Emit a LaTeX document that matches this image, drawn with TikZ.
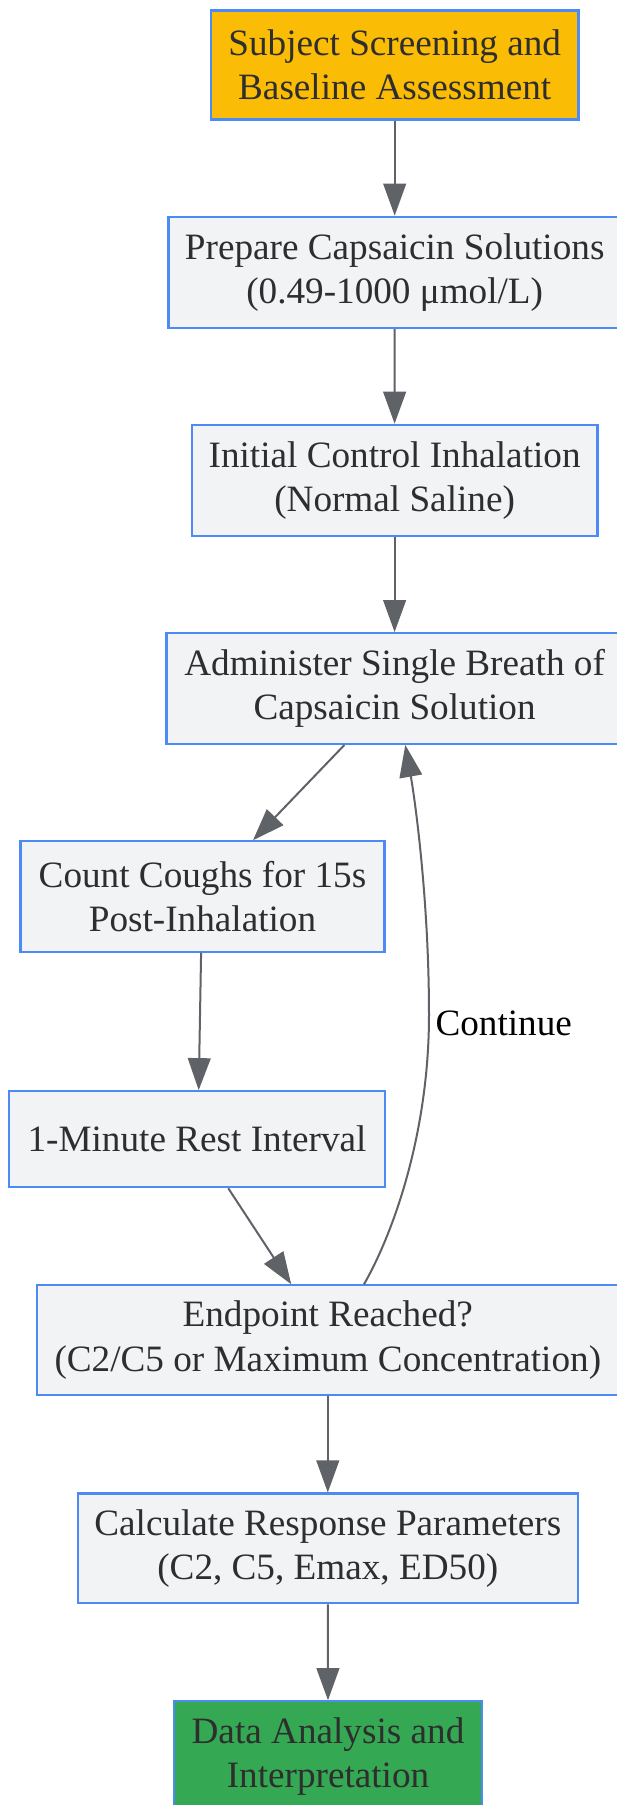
\documentclass[tikz,border=0pt]{standalone}
\usepackage{fontspec}
\setmainfont{Liberation Serif}
\usetikzlibrary{arrows.meta,calc}
\definecolor{bordc}{HTML}{4C8BF5}
\definecolor{fillc}{HTML}{F1F3F5}
\definecolor{edgec}{HTML}{5F6368}
\definecolor{txtc}{HTML}{2E2E2E}
\definecolor{orangec}{HTML}{FBBC05}
\definecolor{greenc}{HTML}{34A853}
\begin{document}
\begin{tikzpicture}[x=1pt,y=-1pt,
  box/.style={draw=bordc, line width=2.2pt, fill=fillc, text=txtc, align=center,
    inner sep=0pt, font=\fontsize{37.2}{44.5}\selectfont},
  edge/.style={draw=edgec, line width=2pt, -{Triangle[length=32pt,width=22.7pt]}},
  lbl/.style={text=black, inner sep=0pt, font=\fontsize{37.2}{44.5}\selectfont}]
\useasboundingbox (0,0) rectangle (617,1805);
\fill[white] (0,0) rectangle (617,1805);
\clip (0,0) rectangle (617,1805);

\node[box, fill=orangec, minimum width=367.5pt, minimum height=109pt] (subj) at (394.7,65)
  {Subject Screening and\\Baseline Assessment};
\node[box, minimum width=452.6pt, minimum height=111.3pt] (prep) at (394.7,272.4)
  {Prepare Capsaicin Solutions\\(0.49-1000 μmol/L)};
\node[box, minimum width=405.7pt, minimum height=111pt] (init) at (394.6,480.3)
  {Initial Control Inhalation\\(Normal Saline)};
\node[box, minimum width=456.2pt, minimum height=110.7pt] (admin) at (394.6,688.5)
  {Administer Single Breath of\\Capsaicin Solution};
\node[box, minimum width=364pt, minimum height=110.3pt] (count) at (202.5,896.5)
  {Count Coughs for 15s\\Post-Inhalation};
\node[box, minimum width=375.8pt, minimum height=96pt] (rest) at (197,1139.2)
  {1-Minute Rest Interval};
\node[box, minimum width=582.4pt, minimum height=109.7pt] (endp) at (327.8,1340.2)
  {Endpoint Reached?\\(C2/C5 or Maximum Concentration)};
\node[box, minimum width=499.8pt, minimum height=109.8pt] (calc) at (327.8,1548.4)
  {Calculate Response Parameters\\(C2, C5, Emax, ED50)};
\node[box, fill=greenc, minimum width=308pt, minimum height=110pt] (data) at (328,1756.3)
  {Data Analysis and\\Interpretation};

\node[lbl] (cont) at (503.7,1023.7) {Continue};

\draw[edge] (subj.south) -- (prep.north);
\draw[edge] (prep.south) -- (init.north);
\draw[edge] (init.south) -- (admin.north);
\draw[edge] ([xshift=-50.2pt]admin.south) -- ([xshift=50.5pt]count.north);
\draw[edge] ([xshift=-1.4pt]count.south) -- ([xshift=1.7pt]rest.north);
\draw[edge] ([xshift=31.3pt]rest.south) -- ([xshift=-36.6pt]endp.north);
\draw[edge] ([xshift=36.2pt]endp.north)
  .. controls (395,1230) and (429,1130) .. (429,1015)
  .. controls (429,900) and (415,800) .. ([xshift=10.7pt]admin.south);
\draw[edge] (endp.south) -- (calc.north);
\draw[edge] (calc.south) -- (data.north);
\end{tikzpicture}
\end{document}
